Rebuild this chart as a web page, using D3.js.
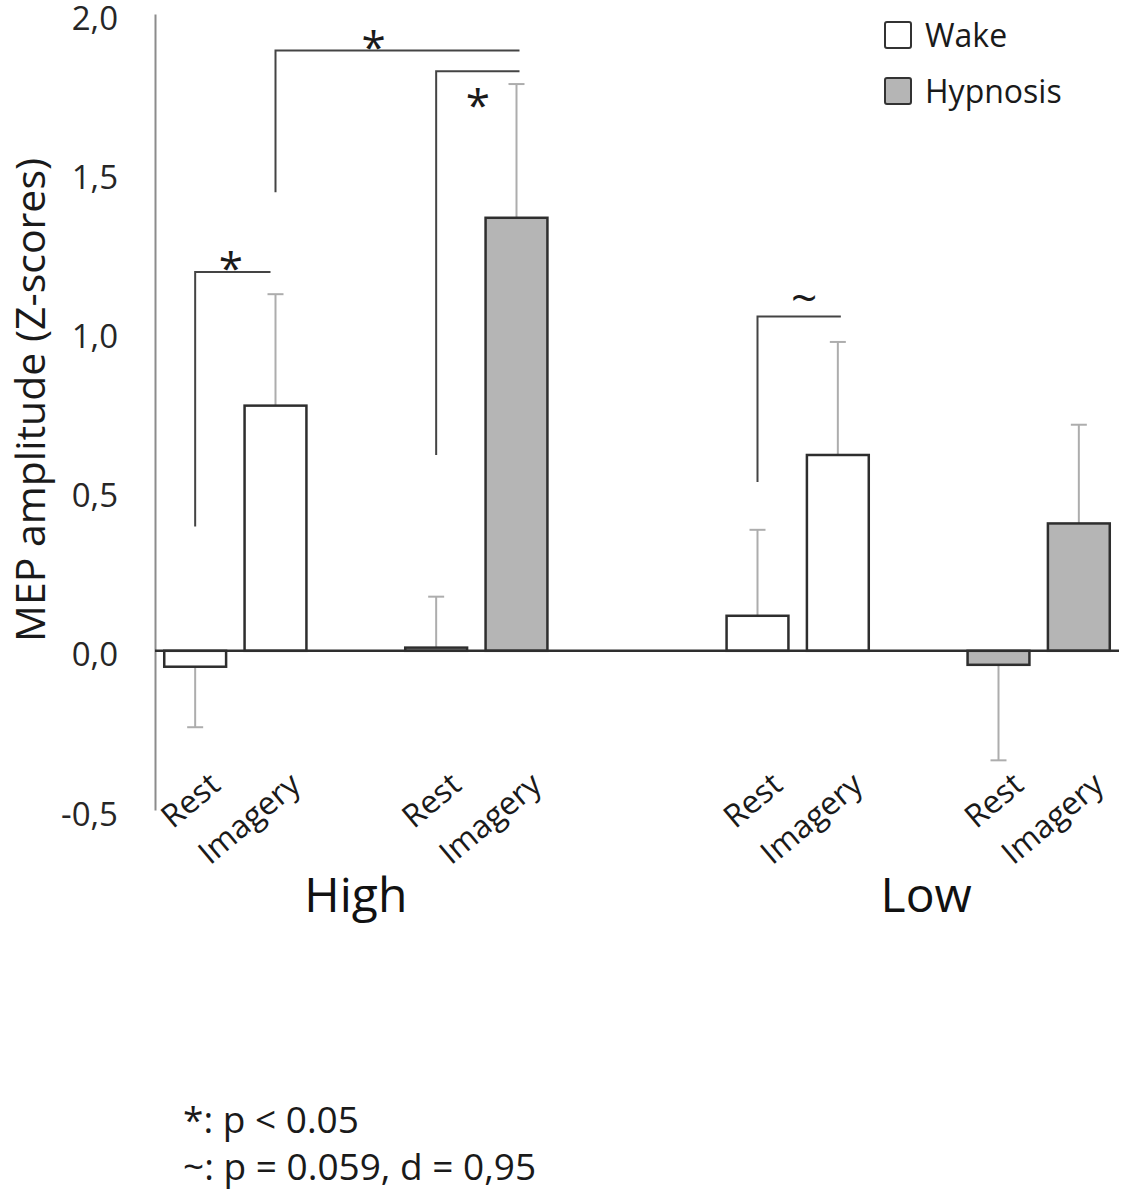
<!DOCTYPE html>
<html>
<head>
<meta charset="utf-8">
<script src="https://cdn.jsdelivr.net/npm/d3@7"></script>
<style>
  html, body { margin: 0; padding: 0; background: #fff; }
  svg { display: block; font-family: "Open Sans", sans-serif; }
</style>
</head>
<body>
<svg id="chart" width="1123" height="1200"></svg>
<script>
// ---- data ----
const groups = ["High", "Low"];
const conditions = ["Wake", "Hypnosis"];
const tasks = ["Rest", "Imagery"];
// order: High-Wake-Rest, High-Wake-Imagery, High-Hyp-Rest, High-Hyp-Imagery, Low-...
const barGroup = ["High", "High", "High", "High", "Low", "Low", "Low", "Low"];
const barCondition = ["Wake", "Wake", "Hypnosis", "Hypnosis", "Wake", "Wake", "Hypnosis", "Hypnosis"];
const barTask = ["Rest", "Imagery", "Rest", "Imagery", "Rest", "Imagery", "Rest", "Imagery"];
const meanValues = [-0.05, 0.77, 0.01, 1.36, 0.11, 0.615, -0.044, 0.40];
const errorValues = [0.19, 0.35, 0.16, 0.42, 0.27, 0.355, 0.30, 0.31];
const barSlots = [0, 1, 3, 4, 7, 8, 10, 11];
const yTicks = [-0.5, 0, 0.5, 1.0, 1.5, 2.0];
const tickLabels = ["-0,5", "0,0", "0,5", "1,0", "1,5", "2,0"];
// significance brackets: from bar index, to bar index, low value, top value, label
const sigFrom = [0, 1, 2, 4];
const sigTo = [1, 3, 3, 5];
const sigLow = [0.39, 1.44, 0.615, 0.53];
const sigTop = [1.19, 1.885, 1.82, 1.05];
const sigLabel = ["*", "*", "*", "~"];
const footnotes = ["*: p < 0.05", "~: p = 0.059, d = 0,95"];

// ---- scales ----
const svg = d3.select("#chart");
const x = d3.scaleBand().domain(d3.range(12)).range([155, 1119]).paddingInner(0.23).paddingOuter(0.115);
const y = d3.scaleLinear().domain([-0.5, 2.0]).range([810, 14]);
const fill = d3.scaleOrdinal().domain(conditions).range(["#ffffff", "#b5b5b5"]);
const cx = i => x(barSlots[i]) + x.bandwidth() / 2;

const data = meanValues.map((v, i) => ({ v, e: errorValues[i], slot: barSlots[i], cond: barCondition[i], task: barTask[i], group: barGroup[i], i }));

// ---- y axis ----
const yAxis = d3.axisLeft(y).tickValues(yTicks).tickSize(0).tickPadding(37)
  .tickFormat((d, i) => tickLabels[i]);
const gy = svg.append("g").attr("transform", "translate(155,0)").call(yAxis);
gy.select(".domain").attr("stroke", "#8c8c8c").attr("stroke-width", 2);
gy.selectAll("text").attr("font-size", 33).attr("fill", "#262626").attr("font-family", "Open Sans").attr("dy", "0.46em");

svg.append("text")
  .attr("transform", `translate(45,400) rotate(-90)`)
  .attr("text-anchor", "middle")
  .attr("font-size", 41).attr("fill", "#1a1a1a")
  .text("MEP amplitude (Z-scores)");

// ---- error bars ----
const eb = svg.append("g").attr("stroke", "#adadad").attr("stroke-width", 2);
data.forEach(d => {
  const end = d.v >= 0 ? d.v + d.e : d.v - d.e;
  eb.append("line").attr("x1", cx(d.i)).attr("x2", cx(d.i)).attr("y1", y(d.v)).attr("y2", y(end));
  eb.append("line").attr("x1", cx(d.i) - 8).attr("x2", cx(d.i) + 8).attr("y1", y(end)).attr("y2", y(end));
});

// ---- bars ----
svg.append("g").selectAll("rect").data(data).join("rect")
  .attr("x", d => x(d.slot))
  .attr("width", x.bandwidth())
  .attr("y", d => y(Math.max(0, d.v)))
  .attr("height", d => Math.max(2, Math.abs(y(d.v) - y(0))))
  .attr("fill", d => fill(d.cond))
  .attr("stroke", "#2e2e2e").attr("stroke-width", 2.5);

// zero line
svg.append("line").attr("x1", 155).attr("x2", 1119).attr("y1", y(0)).attr("y2", y(0))
  .attr("stroke", "#2e2e2e").attr("stroke-width", 2.5);

// ---- category labels ----
svg.append("g").selectAll("text").data(data).join("text")
  .attr("transform", d => `translate(${cx(d.i) + 27},788) rotate(-40)`)
  .attr("text-anchor", "end")
  .attr("font-size", 32).attr("fill", "#1a1a1a")
  .text(d => d.task);

// group labels
groups.forEach(g => {
  const idx = data.filter(d => d.group === g).map(d => d.i);
  const mid = (cx(idx[0]) + cx(idx[idx.length - 1])) / 2;
  svg.append("text").attr("x", mid + (g === "Low" ? 8 : 0)).attr("y", 912)
    .attr("text-anchor", "middle").attr("font-size", 48).attr("fill", "#111")
    .text(g);
});

// ---- significance brackets ----
const sg = svg.append("g");
sigFrom.forEach((f, k) => {
  const x1 = cx(f), x2 = cx(sigTo[k]) + (k === 0 ? -5 : 3);
  const yl = y(sigLow[k]), yt = y(sigTop[k]);
  sg.append("path").attr("d", `M${x1},${yl}V${yt}H${x2}`)
    .attr("fill", "none").attr("stroke", "#444").attr("stroke-width", 2);
  let lx, ly;
  if (k === 0) { lx = (x1 + x2) / 2 - 2; ly = yt + 12; }
  else if (k === 1) { lx = x1 + 98; ly = yt + 12; }
  else if (k === 2) { lx = (x1 + x2) / 2; ly = yt + 50; }
  else { lx = (x1 + x2) / 2 + 5; ly = yt - 2; }
  sg.append("text").attr("x", lx).attr("y", ly)
    .attr("text-anchor", "middle").attr("font-size", sigLabel[k] === "*" ? 44 : 46)
    .attr("fill", "#1a1a1a").text(sigLabel[k]);
});

// ---- legend ----
const lg = svg.append("g");
conditions.forEach((c, i) => {
  lg.append("rect").attr("x", 885).attr("y", 22 + i * 56).attr("width", 26).attr("height", 26)
    .attr("fill", fill(c)).attr("stroke", "#333").attr("stroke-width", 2).attr("rx", 2);
  lg.append("text").attr("x", 925).attr("y", 35 + i * 56).attr("dy", "0.36em")
    .attr("font-size", 32).attr("fill", "#1a1a1a").text(c);
});

// ---- footnotes ----
footnotes.forEach((t, i) => {
  svg.append("text").attr("x", 183).attr("y", 1133 + i * 47)
    .attr("font-size", 37).attr("fill", "#1a1a1a").text(t);
});
</script>
</body>
</html>
